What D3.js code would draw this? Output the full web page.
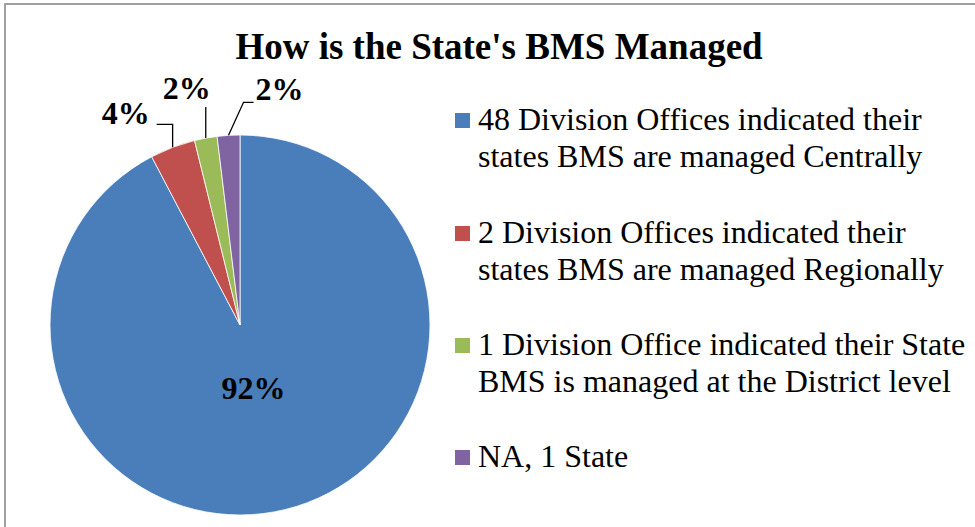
<!DOCTYPE html>
<html>
<head>
<meta charset="utf-8">
<script src="https://cdn.jsdelivr.net/npm/d3@7"></script>
<style>
	body { margin: 0; background: #fff; }
	svg { display: block; }
</style>
</head>
<body>
<svg id="chart"></svg>
<script>
const categories = [
	['48 Division Offices indicated their', 'states BMS are managed Centrally'],
	['2 Division Offices indicated their', 'states BMS are managed Regionally'],
	['1 Division Office indicated their State', 'BMS is managed at the District level'],
	['NA, 1 State']
];
const counts = [48, 2, 1, 1];
const pctLabels = ['92%', '4%', '2%', '2%'];
const colors = ['#4A7EBB', '#C0504D', '#9BBB59', '#8064A2'];

const width = 975, height = 527;
const cx = 240, cy = 325, radius = 190;
const serif = 'Liberation Serif';

// label placement relative to the slice's outer mid point (Excel hand-placed labels)
const labelOffsets = [null, [-47, -35], [-19, -50], [51, -47]];
const leaderBends = [null, [[0, -23], [-16, -23]], [[0, -31]], [[15, -33], [25, -33]]];

const svg = d3.select('#chart')
	.attr('width', width)
	.attr('height', height);

// chart area frame
svg.append('path')
	.attr('d', `M5,${height} L5,4 L${width},4`)
	.attr('fill', 'none')
	.attr('stroke', '#a0a0a0')
	.attr('stroke-width', 2);

svg.append('text')
	.attr('x', 499)
	.attr('y', 59)
	.attr('text-anchor', 'middle')
	.attr('font-family', serif)
	.attr('font-size', 37)
	.attr('font-weight', 'bold')
	.text("How is the State's BMS Managed");

const pie = d3.pie().sort(null).value(d => d);
const arcs = pie(counts);

const arc = d3.arc().innerRadius(0).outerRadius(radius);
const g = svg.append('g').attr('transform', `translate(${cx},${cy})`);

g.selectAll('path.slice')
	.data(arcs)
	.enter()
	.append('path')
	.attr('class', 'slice')
	.attr('d', arc)
	.attr('fill', (d, i) => colors[i])
	.attr('stroke', '#fff')
	.attr('stroke-width', 0.8);

const edgePoint = (d) => {
	const a = (d.startAngle + d.endAngle) / 2;
	return [radius * Math.sin(a), -radius * Math.cos(a)];
};

// inside label for the big slice
const innerArc = d3.arc().innerRadius(130).outerRadius(0);
const c0 = innerArc.centroid(arcs[0]);
g.append('text')
	.attr('x', c0[0] - 2)
	.attr('y', c0[1])
	.attr('dy', '0.35em')
	.attr('text-anchor', 'middle')
	.attr('font-family', serif)
	.attr('font-size', 32)
	.attr('font-weight', 'bold')
	.text(pctLabels[0]);

arcs.forEach((d, i) => {
	if (i === 0) return;
	const p = edgePoint(d);
	const pts = [p].concat(leaderBends[i].map(b => [p[0] + b[0], p[1] + b[1]]));
	g.append('path')
		.attr('d', d3.line()(pts))
		.attr('fill', 'none')
		.attr('stroke', '#000')
		.attr('stroke-width', 1.3);
	g.append('text')
		.attr('x', p[0] + labelOffsets[i][0])
		.attr('y', p[1] + labelOffsets[i][1])
		.attr('dy', '0.35em')
		.attr('text-anchor', 'middle')
		.attr('font-family', serif)
		.attr('font-size', 32)
		.attr('font-weight', 'bold')
		.text(pctLabels[i]);
});

// legend
const legendTop = [130, 243, 355, 467];
const lineH = 37;
const legend = svg.append('g');
categories.forEach((lines, i) => {
	legend.append('rect')
		.attr('x', 455)
		.attr('y', legendTop[i] - 17)
		.attr('width', 15)
		.attr('height', 15)
		.attr('fill', colors[i]);
	lines.forEach((s, j) => {
		legend.append('text')
			.attr('x', 478)
			.attr('y', legendTop[i] + j * lineH)
			.attr('font-family', serif)
			.attr('font-size', 32)
			.text(s);
	});
});
</script>
</body>
</html>
